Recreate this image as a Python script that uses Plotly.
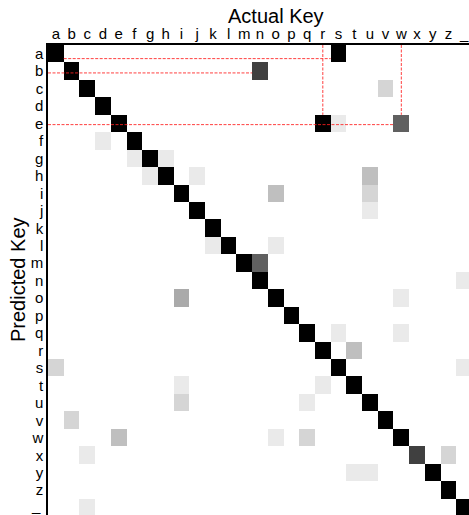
import plotly.graph_objects as go

keys = list("abcdefghijklmnopqrstuvwxyz") + ["_"]
n = len(keys)

# diagonal counts (correct predictions), clipped at colour max
diag_counts = [12] * n
diag_counts[keys.index("x")] = 9

# off-diagonal confusions: (predicted key, actual key, count)
confusions = [
    ("a", "s", 12), ("b", "n", 9), ("c", "v", 2),
    ("e", "r", 12), ("e", "s", 1), ("e", "w", 7.5),
    ("f", "d", 1), ("g", "f", 1), ("g", "h", 1),
    ("h", "g", 1), ("h", "j", 1), ("h", "u", 3),
    ("i", "o", 3), ("i", "u", 2), ("j", "u", 1),
    ("l", "k", 1), ("l", "o", 1), ("m", "n", 7.5),
    ("n", "_", 1), ("o", "i", 4), ("o", "w", 1),
    ("q", "s", 1), ("q", "w", 1), ("r", "t", 3),
    ("s", "a", 2), ("s", "_", 1), ("t", "i", 1), ("t", "r", 1),
    ("u", "i", 2), ("u", "q", 1), ("v", "b", 2),
    ("w", "e", 3), ("w", "o", 1), ("w", "q", 2),
    ("x", "c", 1), ("x", "z", 2), ("y", "t", 1), ("y", "u", 1),
    ("_", "c", 1),
]

# highlight lines: (row key, from col key, to col key, vertical offset within row)
h_links = [("a", "a", "s", 0.28), ("b", None, "n", 0.1), ("e", None, "w", 0.06)]
# vertical highlight lines: (column key, down to row key)
v_links = [("r", "e"), ("w", "e")]

z = [[0] * n for _ in range(n)]
for i in range(n):
    z[i][i] = diag_counts[i]
for p, a, c in confusions:
    z[keys.index(p)][keys.index(a)] = c

fig = go.Figure(go.Heatmap(
    z=z, x=list(range(n)), y=list(range(n)),
    colorscale=[[0, "white"], [1, "black"]], zmin=0, zmax=12,
    showscale=False, hoverinfo="skip",
))

font = "Arial, Liberation Sans, Helvetica, sans-serif"
line_style = dict(color="rgba(255,30,30,0.85)", width=1, dash="3px,1.5px")
shapes = []
for row, c0, c1, off in h_links:
    r = keys.index(row) + off
    x0 = -0.5 if c0 is None else keys.index(c0) + 0.5
    x1 = keys.index(c1) - 0.5
    shapes.append(dict(type="line", xref="x", yref="y", x0=x0, x1=x1, y0=r, y1=r,
                       line=line_style, layer="above"))
for col, row in v_links:
    cx = keys.index(col)
    shapes.append(dict(type="line", xref="x", yref="y", x0=cx, x1=cx, y0=-0.5, y1=keys.index(row) - 0.5,
                       line=line_style, layer="above"))

axis_common = dict(tickmode="array", tickvals=list(range(n)),
                   showgrid=False, zeroline=False, showline=True,
                   linecolor="black", linewidth=1.5, ticks="", tickfont=dict(size=15),
                   fixedrange=True, ticklabeloverflow="allow")

# the bottom row label would fall below the page edge; draw it as an annotation instead
y_ticktext = keys[:-1] + [""]

fig.update_layout(
    width=469, height=515,
    margin=dict(l=48, r=0, t=45, b=0, pad=0),
    paper_bgcolor="white", plot_bgcolor="white",
    font=dict(family=font, color="black"),
    shapes=shapes,
    xaxis=dict(side="top", range=[-0.5, 26.31], ticklabelstandoff=-2, ticktext=keys, **axis_common),
    yaxis=dict(range=[26.42, -0.5], ticktext=y_ticktext, **axis_common),
    annotations=[
        dict(text="Actual Key", xref="paper", yref="paper", x=(276 - 48) / 421, y=1 + (45 - 16) / 470,
             xanchor="center", yanchor="middle", showarrow=False, font=dict(size=20)),
        dict(text="Predicted Key", xref="paper", yref="paper", x=(18 - 48) / 421, y=0.5,
             xanchor="center", yanchor="middle", textangle=-90, showarrow=False, font=dict(size=20)),
        dict(text=keys[-1], xref="paper", yref="paper", x=(43 - 48) / 421, y=(515 - 505) / 470,
             xanchor="right", yanchor="middle", showarrow=False, font=dict(size=15)),
    ],
)

fig.write_html("out.html")
